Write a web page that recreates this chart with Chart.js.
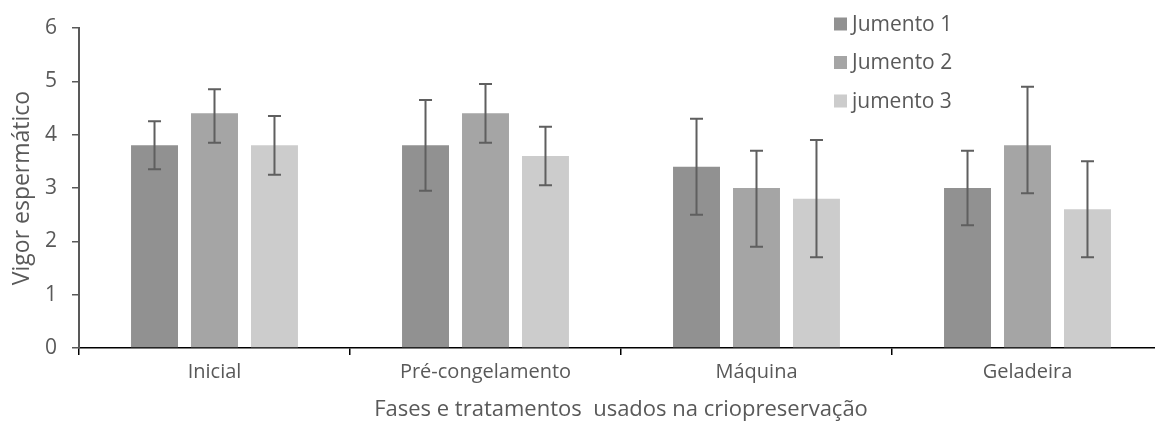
<!DOCTYPE html>
<html>
<head>
<meta charset="utf-8">
<script src="https://cdn.jsdelivr.net/npm/chart.js@4/dist/chart.umd.min.js"></script>
<style>
  html, body { margin: 0; padding: 0; background: #fff; overflow: hidden; }
  #wrap { width: 1163px; height: 423px; position: relative; }
</style>
</head>
<body>
<div id="wrap"><canvas id="grafico"></canvas></div>
<script>
// Dados
const categorias = ['Inicial', 'Pré-congelamento', 'Máquina', 'Geladeira'];
const nomesSeries = ['Jumento 1', 'Jumento 2', 'jumento 3'];
const jumento1 = [3.8, 3.8, 3.4, 3.0];
const jumento2 = [4.4, 4.4, 3.0, 3.8];
const jumento3 = [3.8, 3.6, 2.8, 2.6];
// barras de erro (acima / abaixo)
const erroMais1 = [0.45, 0.85, 0.9, 0.7];
const erroMenos1 = [0.45, 0.85, 0.9, 0.7];
const erroMais2 = [0.45, 0.55, 0.7, 1.1];
const erroMenos2 = [0.55, 0.55, 1.1, 0.9];
const erroMais3 = [0.55, 0.55, 1.1, 0.9];
const erroMenos3 = [0.55, 0.55, 1.1, 0.9];
const ticksY = [0, 1, 2, 3, 4, 5, 6];

const cores = ['#919191', '#a5a5a5', '#cccccc'];
const corTexto = '#595959';
const fonte = '"Open Sans", sans-serif';

// Desenha as barras de erro usando as escalas do gráfico
const barrasErro = {
    id: 'barrasErro',
    afterDatasetsDraw(chart) {
        const ctx = chart.ctx;
        const y = chart.scales.y;
        ctx.save();
        ctx.strokeStyle = '#5f5f5f';
        ctx.lineWidth = 2;
        chart.data.datasets.forEach((ds, i) => {
            const meta = chart.getDatasetMeta(i);
            meta.data.forEach((bar, j) => {
                const v = ds.data[j];
                const yTop = y.getPixelForValue(v + ds.erroMais[j]);
                const yBot = y.getPixelForValue(v - ds.erroMenos[j]);
                const cap = 6.5;
                ctx.beginPath();
                ctx.moveTo(bar.x, yTop);
                ctx.lineTo(bar.x, yBot);
                ctx.moveTo(bar.x - cap, yTop);
                ctx.lineTo(bar.x + cap, yTop);
                ctx.moveTo(bar.x - cap, yBot);
                ctx.lineTo(bar.x + cap, yBot);
                ctx.stroke();
            });
        });
        ctx.restore();
    }
};

// Legenda vertical no canto superior direito
const legendaLateral = {
    id: 'legendaLateral',
    afterDraw(chart) {
        const ctx = chart.ctx;
        ctx.save();
        ctx.font = '21px ' + fonte;
        ctx.textBaseline = 'middle';
        chart.data.datasets.forEach((ds, i) => {
            const yc = 24 + i * 38.5;
            ctx.fillStyle = ds.backgroundColor;
            ctx.fillRect(834, yc - 6.5, 13, 13);
            ctx.fillStyle = corTexto;
            ctx.fillText(ds.label, 852, yc + 1);
        });
        ctx.restore();
    }
};

const series = [jumento1, jumento2, jumento3];
const errosMais = [erroMais1, erroMais2, erroMais3];
const errosMenos = [erroMenos1, erroMenos2, erroMenos3];

new Chart(document.getElementById('grafico'), {
    type: 'bar',
    data: {
        labels: categorias,
        datasets: series.map((s, i) => ({
            label: nomesSeries[i],
            data: s,
            erroMais: errosMais[i],
            erroMenos: errosMenos[i],
            backgroundColor: cores[i],
            borderWidth: 0,
            categoryPercentage: 0.664,
            barPercentage: 0.783
        }))
    },
    options: {
        responsive: true,
        maintainAspectRatio: false,
        animation: false,
        layout: { padding: { top: 28, right: 0, left: 0, bottom: 0 } },
        plugins: {
            legend: { display: false },
            tooltip: { enabled: false }
        },
        scales: {
            x: {
                grid: {
                    display: true,
                    drawOnChartArea: false,
                    drawTicks: true,
                    tickLength: 7,
                    color: '#000',
                    lineWidth: 1.5
                },
                border: { display: true, color: '#000', width: 1.5 },
                ticks: {
                    color: corTexto,
                    font: { family: fonte, size: 20 },
                    padding: 5
                },
                title: {
                    display: true,
                    text: 'Fases e tratamentos  usados na criopreservação',
                    color: corTexto,
                    font: { family: fonte, size: 22 },
                    padding: { top: 0, bottom: 0 }
                },
                afterFit(s) { s.height = 75; }
            },
            y: {
                min: 0,
                max: 6,
                afterBuildTicks(s) { s.ticks = ticksY.map(v => ({ value: v })); },
                grid: {
                    display: true,
                    drawOnChartArea: false,
                    drawTicks: true,
                    tickLength: 7,
                    color: '#595959',
                    lineWidth: 1.5
                },
                border: { display: true, color: '#595959', width: 2 },
                ticks: {
                    color: corTexto,
                    font: { family: fonte, size: 21 },
                    padding: 15
                },
                title: {
                    display: true,
                    text: 'Vigor espermático',
                    color: corTexto,
                    font: { family: fonte, size: 23 },
                    padding: { top: 9, bottom: 0 }
                },
                afterFit(s) { s.width = 79; }
            }
        }
    },
    plugins: [barrasErro, legendaLateral]
});
</script>
</body>
</html>
